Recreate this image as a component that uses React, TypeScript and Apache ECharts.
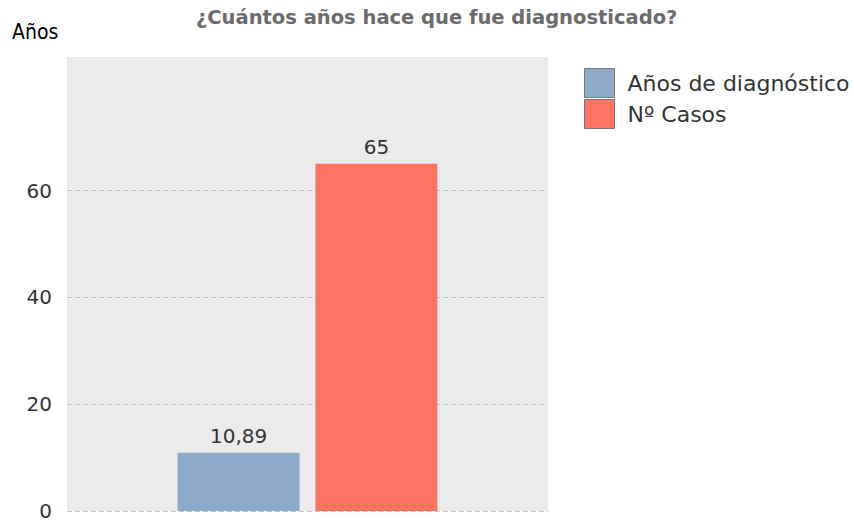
import React, { useEffect, useRef } from "react";
import * as echarts from "echarts";

const chartTitle = "¿Cuántos años hace que fue diagnosticado?";
const yAxisName = "Años";
const categories = [""];
const seriesNames = ["Años de diagnóstico", "Nº Casos"];
const seriesValues = [[10.89], [65]];
const seriesColors = ["#8eaacb", "#fe7462"];
const yTicks = [0, 20, 40, 60];

export default function App() {
  const ref = useRef<HTMLDivElement>(null);
  useEffect(() => {
    if (!ref.current) return;
    const chart = echarts.init(ref.current, null, { renderer: "svg" });
    chart.setOption({
      animation: false,
      backgroundColor: "#ffffff",
      title: {
        text: chartTitle,
        left: 196,
        top: 7,
        padding: 0,
        textStyle: {
          fontFamily: "'DejaVu Sans', sans-serif",
          fontWeight: "bold",
          fontSize: 19.5,
          color: "#6b6b6b",
        },
      },
      graphic: [
        {
          type: "text",
          left: 12,
          top: 21,
          style: {
            text: yAxisName,
            font: "21px 'DejaVu Sans Condensed', 'DejaVu Sans', sans-serif",
            fill: "#000",
          },
        },
      ],
      legend: {
        orient: "vertical",
        left: 584,
        top: 68,
        padding: 0,
        itemWidth: 30,
        itemHeight: 29,
        itemGap: 1,
        icon: "rect",
        data: seriesNames,
        itemStyle: { borderColor: "#777", borderWidth: 1 },
        textStyle: {
          fontFamily: "'DejaVu Sans', sans-serif",
          fontSize: 22,
          color: "#333",
          padding: [0, 0, 0, 8],
        },
      },
      grid: {
        left: 67,
        right: 306,
        top: 57,
        bottom: 12,
        show: true,
        backgroundColor: "#ebebeb",
        borderWidth: 0,
      },
      xAxis: {
        type: "category",
        data: categories,
        axisLine: { show: false },
        axisTick: { show: false },
        axisLabel: { show: false },
      },
      yAxis: {
        type: "value",
        min: 0,
        max: 85,
        interval: 20,
        axisLine: { show: false },
        axisTick: { show: false, customValues: yTicks },
        axisLabel: {
          customValues: yTicks,
          margin: 15,
          fontFamily: "'DejaVu Sans', sans-serif",
          fontSize: 20,
          color: "#333",
        },
        splitLine: {
          show: true,
          lineStyle: { color: "#c4c4c4", type: [5, 3], width: 1 },
        },
      },
      series: seriesNames.map((name, i) => ({
        name,
        type: "bar",
        data: seriesValues[i],
        barWidth: 122,
        barGap: "13%",
        itemStyle: { color: seriesColors[i] },
        label: {
          show: true,
          position: "top",
          distance: 7,
          fontFamily: "'DejaVu Sans', sans-serif",
          fontSize: 20,
          color: "#333",
          formatter: (p: any) => String(p.value).replace(".", ","),
        },
      })),
    });
    return () => chart.dispose();
  }, []);
  return (
    <div
      ref={ref}
      style={{ position: "absolute", left: 0, top: 0, width: 854, height: 523 }}
    />
  );
}
